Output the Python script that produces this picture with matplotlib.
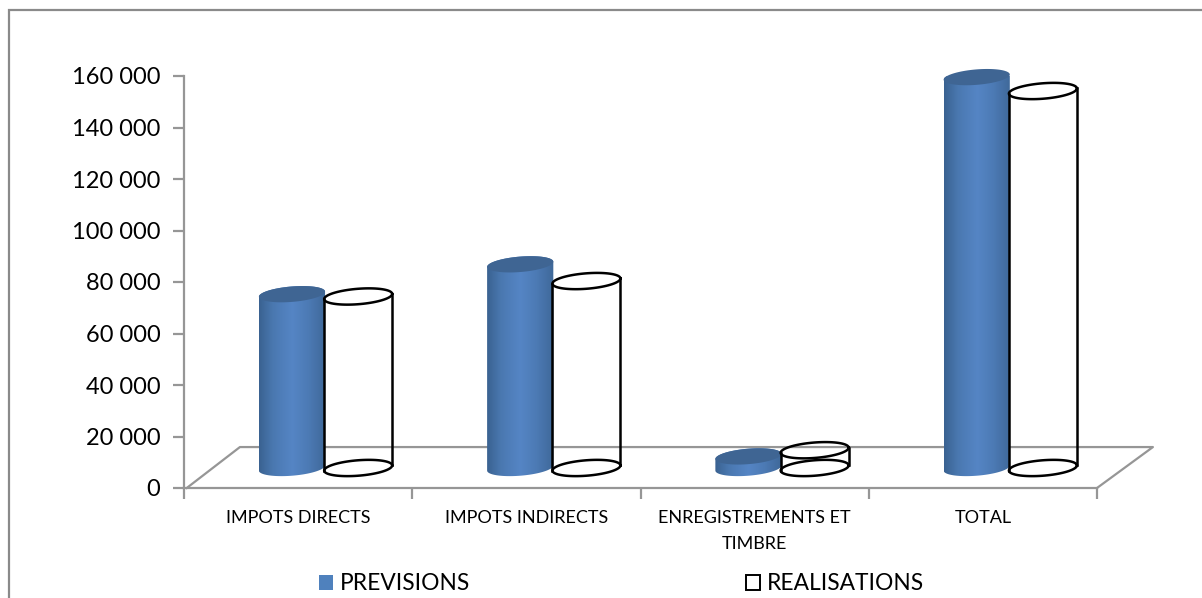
import matplotlib
matplotlib.use("Agg")
import matplotlib.pyplot as plt
import numpy as np
from matplotlib.colors import LinearSegmentedColormap
from matplotlib.patches import Patch, Polygon, Rectangle
from matplotlib.ticker import FuncFormatter

categories = ["IMPOTS DIRECTS", "IMPOTS INDIRECTS", "ENREGISTREMENTS ET\nTIMBRE", "TOTAL"]
previsions = [67500, 79100, 4500, 151800]
realisations = [66600, 72600, 6900, 146400]
y_ticks = [0, 20000, 40000, 60000, 80000, 100000, 120000, 140000, 160000]

W, H = 1202, 598
GREY = "#969696"

# cylinder geometry, x in category units, y in value units
HALF_W = 0.145
HALF_W_OPEN = 0.149
OFFSET_PREV = 0.473
OFFSET_REAL = 0.763
BASE_LIFT = 7770
ELL_B = 3000
ELL_SHEAR = 1000
FLOOR_DX = 0.245
FLOOR_DY = 15900

plt.rcParams["font.family"] = ["Lato", "DejaVu Sans"]

fig = plt.figure(figsize=(W / 100, H / 100), dpi=100)
ax = fig.add_axes([184 / W, 1 - 488 / H, 913 / W, 412 / H])
ax.patch.set_alpha(0)

shade = LinearSegmentedColormap.from_list(
    "cyl", [(0, "#3a6291"), (0.2, "#4a78b0"), (0.5, "#5585c5"), (0.75, "#4c7ab4"), (1, "#3f6899")]
)


def ellipse(cx, y, half_w=HALF_W, start=0.0, stop=2 * np.pi):
    t = np.linspace(start, stop, 80)
    return np.column_stack([cx + half_w * np.cos(t), y + ELL_B * np.sin(t) + ELL_SHEAR * np.cos(t)])


def solid_cylinder(cx, value):
    base = BASE_LIFT
    top = BASE_LIFT + value
    lower = ellipse(cx, base, start=np.pi, stop=2 * np.pi)
    upper = ellipse(cx, top, start=0, stop=np.pi)
    body = Polygon(np.vstack([lower, upper]), closed=True, transform=ax.transData, fc="none", ec="none", clip_on=False)
    ax.add_patch(body)
    img = ax.imshow(
        np.linspace(0, 1, 64).reshape(1, -1),
        cmap=shade,
        aspect="auto",
        extent=[cx - HALF_W, cx + HALF_W, base - 2 * ELL_B, top + 2 * ELL_B],
        zorder=3,
    )
    img.set_clip_path(body)
    ax.add_patch(Polygon(ellipse(cx, top), closed=True, fc="#3f6593", ec="none", zorder=3.1, clip_on=False))


def open_cylinder(cx, value):
    top = BASE_LIFT + value
    for y in (BASE_LIFT, top):
        xy = ellipse(cx, y, HALF_W_OPEN)
        ax.plot(xy[:, 0], xy[:, 1], color="black", lw=1.8, zorder=4, clip_on=False)
    for side in (-1, 1):
        x = cx + side * HALF_W_OPEN
        shift = side * ELL_SHEAR
        ax.plot([x, x], [BASE_LIFT + shift, top + shift], color="black", lw=1.8, zorder=4, clip_on=False)


# floor of the 3D plot
ax.plot([0.012, FLOOR_DX, 4 + FLOOR_DX, 4], [0, FLOOR_DY, FLOOR_DY, 0], color=GREY, lw=1.6, zorder=1, clip_on=False)

for i in range(len(categories)):
    solid_cylinder(i + OFFSET_PREV, previsions[i])
    open_cylinder(i + OFFSET_REAL, realisations[i])

ax.set_xlim(0, 4)
ax.set_ylim(0, 160000)
ax.set_yticks(y_ticks)
ax.yaxis.set_major_formatter(FuncFormatter(lambda v, p: f"{int(v):,}".replace(",", " ")))
ax.set_xticks(range(5))
ax.set_xticklabels([])
ax.set_xticks([i + 0.5 for i in range(4)], minor=True)
ax.set_xticklabels(categories, minor=True, fontsize=13, linespacing=1.75)
ax.tick_params(axis="x", which="minor", length=0, pad=16)
ax.tick_params(axis="x", which="major", length=8, width=1.6, color=GREY)
ax.tick_params(axis="y", length=8, width=1.6, color=GREY, labelsize=17, pad=9)
for s in ("top", "right"):
    ax.spines[s].set_visible(False)
for s in ("left", "bottom"):
    ax.spines[s].set_color(GREY)
    ax.spines[s].set_linewidth(1.6)

# chart area border, runs off the right and bottom of the figure
fig.add_artist(Rectangle((9 / W, -0.05), 1.1, 1.05 - 10 / H, transform=fig.transFigure, fc="none", ec="#8a8a8a", lw=1.6))

handles = [
    Patch(fc="#4f81bd", ec="none", label="PREVISIONS"),
    Patch(fc="white", ec="black", lw=1.4, label="REALISATIONS"),
]
fig.legend(
    handles=handles,
    ncol=2,
    loc="center",
    bbox_to_anchor=(621.5 / W, 1 - 584 / H),
    frameon=False,
    fontsize=16.4,
    handlelength=0.65,
    handleheight=0.65,
    handletextpad=0.3,
    columnspacing=12.08,
    borderpad=0,
)

fig.savefig("out.png", dpi=100)
